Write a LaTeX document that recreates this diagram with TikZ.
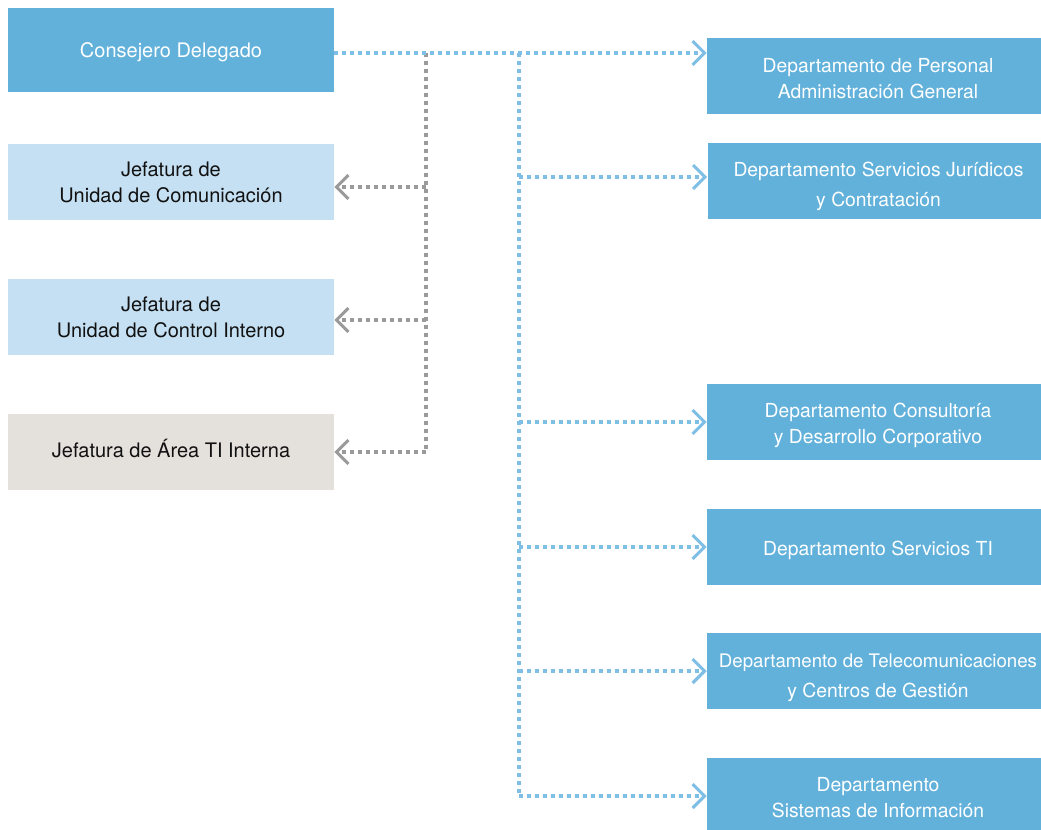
\documentclass[tikz,border=0pt]{standalone}
\usepackage{fontspec}
\setmainfont{TeX Gyre Heros}
\usetikzlibrary{arrows.meta}
\definecolor{boxblue}{HTML}{62B1DB}
\definecolor{boxlight}{HTML}{C5E0F2}
\definecolor{boxbeige}{HTML}{E4E0DC}
\definecolor{lineblue}{HTML}{7FBFE6}
\definecolor{linegray}{HTML}{9A9A9A}
\definecolor{textdark}{HTML}{111111}
% shift a (multi-line) text by #1 down and #2 right, keeping its box size
\newcommand{\shifttxt}[3]{\raisebox{-#1}[\height][\depth]{\hspace*{#2}\begin{tabular}{@{}c@{}}#3\end{tabular}\hspace*{-#2}}}
\begin{document}
\begin{tikzpicture}[x=0.75pt,y=-0.75pt,
  box/.style={rectangle, inner sep=0pt, align=center,
    font=\fontsize{15}{19.5}\selectfont},
  leftbox/.style={box, minimum width=244.5pt, minimum height=57pt},
  rightbox/.style={box, fill=boxblue, text=white, minimum width=250.5pt, minimum height=57pt,
    font=\fontsize{14.5}{19.5}\selectfont},
  dotline/.style={line width=2.8pt, dash pattern=on 2.8pt off 3.2pt},
  blueline/.style={dotline, draw=lineblue},
  grayline/.style={dotline, draw=linegray},
  tip/.style={-{Straight Barb[length=9pt,width=18pt,line width=2.3pt]}}]
\useasboundingbox (0,0) rectangle (1041,830);
% left column
\node[box, fill=boxblue, text=white, minimum width=244.5pt, minimum height=63pt] (cd) at (171,50) {\shifttxt{1.5pt}{0pt}{Consejero Delegado}};
\node[leftbox, fill=boxlight, text=textdark] (uc) at (171,182) {\shifttxt{2pt}{0pt}{Jefatura de\\Unidad de Comunicación}};
\node[leftbox, fill=boxlight, text=textdark] (ci) at (171,317) {\shifttxt{2pt}{0pt}{Jefatura de\\Unidad de Control Interno}};
\node[leftbox, fill=boxbeige, text=textdark] (ti) at (171,452) {\shifttxt{0pt}{0pt}{Jefatura de Área TI Interna}};
% right column
\node[rightbox] (pers) at (874,76) {\shifttxt{3pt}{3pt}{Departamento de Personal\\Administración General}};
\node[rightbox] (jur) at (874.5,181) {\shifttxt{3.8pt}{3pt}{Departamento Servicios Jurídicos\\[3pt]y Contratación}};
\node[rightbox] (cons) at (874,422) {\shifttxt{2.2pt}{3pt}{Departamento Consultoría\\y Desarrollo Corporativo}};
\node[rightbox] (sti) at (874,547) {\shifttxt{2.2pt}{3pt}{Departamento Servicios TI}};
\node[rightbox] (tel) at (874,671) {\shifttxt{5pt}{3pt}{{\fontsize{14}{19.5}\selectfont Departamento de Telecomunicaciones}\\[3pt]y Centros de Gestión}};
\node[rightbox, minimum height=54pt] (sis) at (874,794) {\shifttxt{3.7pt}{3pt}{Departamento\\Sistemas de Información}};
% junction coordinates
\coordinate (g0) at (426,53);
\coordinate (g1) at (426,187);
\coordinate (g2) at (426,320);
\coordinate (g3) at (426,452);
\coordinate (b0) at (519,53);
\coordinate (b1) at (519,177);
\coordinate (b2) at (519,422);
\coordinate (b3) at (519,547);
\coordinate (b4) at (519,671);
\coordinate (b5) at (519,796);
% gray connectors
\draw[grayline] (g0) -- (g3);
\draw[grayline, tip] (g1) -- (uc.east |- g1);
\draw[grayline, tip] (g2) -- (ci.east |- g2);
\draw[grayline, tip] (g3) -- (ti.east |- g3);
% blue connectors
\draw[blueline] (b0) -- (b5);
\draw[blueline, tip] (cd.east |- g0) -- (pers.west |- g0);
\draw[blueline, tip] (b1) -- (jur.west |- b1);
\draw[blueline, tip] (b2) -- (cons.west |- b2);
\draw[blueline, tip] (b3) -- (sti.west |- b3);
\draw[blueline, tip] (b4) -- (tel.west |- b4);
\draw[blueline, tip] (b5) -- (sis.west |- b5);
\end{tikzpicture}
\end{document}
